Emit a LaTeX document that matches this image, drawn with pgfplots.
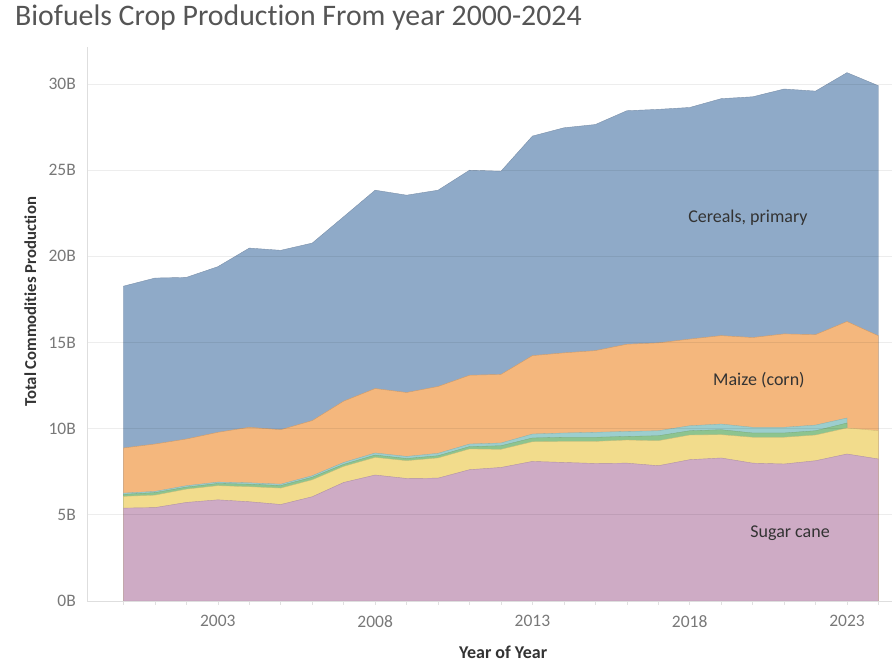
\documentclass[border=0pt]{standalone}
\usepackage{fontspec}
\setmainfont{Carlito}[Ligatures=NoCommon]
\usepackage{pgfplots}
\pgfplotsset{compat=1.18}
\definecolor{cblue}{RGB}{143,170,200}
\definecolor{corange}{RGB}{244,183,125}
\definecolor{cteal}{RGB}{156,206,206}
\definecolor{cgreen}{RGB}{141,196,143}
\definecolor{cyellow}{RGB}{242,220,140}
\definecolor{cpink}{RGB}{206,171,197}
\definecolor{ticktxt}{RGB}{120,120,120}
\definecolor{titletxt}{RGB}{85,85,85}
\definecolor{labtxt}{RGB}{51,51,51}
\begin{document}
\begin{tikzpicture}
\useasboundingbox (0pt,0pt) rectangle (894pt,669pt);
\node[anchor=west, inner sep=0pt, text=titletxt, font=\fontsize{29.8}{29.8}\selectfont] at (15pt,651pt) {Biofuels Crop Production From year 2000-2024};
\begin{axis}[
  at={(87pt,68pt)}, anchor=south west, scale only axis,
  width=805pt, height=554pt,
  xmin=1998.84, xmax=2024.43, ymin=0, ymax=32.15,
  axis x line*=bottom, axis y line*=left,
  axis line style={draw=black!13, -},
  ymajorgrids, major grid style={draw=black, opacity=0.07, line width=0.8pt},
  axis on top,
  xtick={2003,2008,2013,2018,2023},
  xticklabels={2003,2008,2013,2018,2023},
  minor xtick={2000,2001,...,2024},
  ytick={0,5,10,15,20,25,30},
  yticklabels={0B,5B,10B,15B,20B,25B,30B},
  tick align=outside, major tick length=4pt, minor tick length=4pt,
  xtick style={draw=black!12, line width=0.6pt},
  ytick style={draw=none},
  ticklabel style={font=\fontsize{17.5}{17.5}\selectfont, text=ticktxt},
  yticklabel style={anchor=east, inner sep=0pt, xshift=-7pt},
  xticklabel style={anchor=north, inner sep=0pt, yshift=-10pt},
  xlabel={Year of Year},
  ylabel={Total Commodities Production},
  xlabel style={font=\fontsize{18}{18}\selectfont\bfseries, text=labtxt, at={(axis description cs:0.517,-0.092)}, anchor=center},
  ylabel style={font=\fontsize{16.7}{16.7}\selectfont\bfseries, text=labtxt, at={(axis description cs:-0.0705,0.54)}, anchor=center},
  clip=true,
]
% Cereals, primary (cumulative top = total)
\addplot[fill=cblue, draw=cblue!85!black, line width=0.4pt] coordinates {
(2000,18.27) (2001,18.74) (2002,18.78) (2003,19.40) (2004,20.48) (2005,20.35)
(2006,20.77) (2007,22.30) (2008,23.84) (2009,23.55) (2010,23.84) (2011,25.00)
(2012,24.94) (2013,26.98) (2014,27.46) (2015,27.65) (2016,28.45) (2017,28.53)
(2018,28.64) (2019,29.15) (2020,29.26) (2021,29.71) (2022,29.59) (2023,30.66)
(2024,29.90)} \closedcycle;
% Maize (corn) cumulative top
\addplot[fill=corange, draw=corange!85!black, line width=0.4pt] coordinates {
(2000,8.88) (2001,9.11) (2002,9.40) (2003,9.79) (2004,10.08) (2005,9.94)
(2006,10.47) (2007,11.60) (2008,12.33) (2009,12.10) (2010,12.45) (2011,13.10)
(2012,13.15) (2013,14.24) (2014,14.40) (2015,14.53) (2016,14.90) (2017,14.98)
(2018,15.20) (2019,15.40) (2020,15.29) (2021,15.50) (2022,15.46) (2023,16.22)
(2024,15.39)} \closedcycle;
% teal layer cumulative top
\addplot[fill=cteal, draw=cteal!85!black, line width=0.3pt] coordinates {
(2000,6.26) (2001,6.36) (2002,6.69) (2003,6.90) (2004,6.86) (2005,6.78)
(2006,7.27) (2007,8.04) (2008,8.59) (2009,8.39) (2010,8.57) (2011,9.11)
(2012,9.17) (2013,9.69) (2014,9.75) (2015,9.79) (2016,9.84) (2017,9.88)
(2018,10.17) (2019,10.27) (2020,10.08) (2021,10.08) (2022,10.21) (2023,10.62)} \closedcycle;
% green layer cumulative top
\addplot[fill=cgreen, draw=cgreen!85!black, line width=0.3pt] coordinates {
(2000,6.19) (2001,6.29) (2002,6.61) (2003,6.82) (2004,6.78) (2005,6.70)
(2006,7.18) (2007,7.93) (2008,8.47) (2009,8.27) (2010,8.43) (2011,8.96)
(2012,9.01) (2013,9.46) (2014,9.50) (2015,9.50) (2016,9.55) (2017,9.59)
(2018,9.88) (2019,9.94) (2020,9.75) (2021,9.75) (2022,9.88) (2023,10.33)} \closedcycle;
% yellow layer cumulative top
\addplot[fill=cyellow, draw=cyellow!85!black, line width=0.3pt] coordinates {
(2000,6.07) (2001,6.14) (2002,6.49) (2003,6.69) (2004,6.63) (2005,6.55)
(2006,7.03) (2007,7.81) (2008,8.33) (2009,8.14) (2010,8.30) (2011,8.82)
(2012,8.80) (2013,9.24) (2014,9.26) (2015,9.26) (2016,9.34) (2017,9.30)
(2018,9.63) (2019,9.65) (2020,9.50) (2021,9.50) (2022,9.63) (2023,10.04)
(2024,9.88)} \closedcycle;
% Sugar cane
\addplot[fill=cpink, draw=cpink!85!black, line width=0.4pt] coordinates {
(2000,5.39) (2001,5.42) (2002,5.72) (2003,5.87) (2004,5.76) (2005,5.60)
(2006,6.05) (2007,6.88) (2008,7.31) (2009,7.11) (2010,7.13) (2011,7.62)
(2012,7.75) (2013,8.10) (2014,8.04) (2015,7.98) (2016,8.00) (2017,7.85)
(2018,8.20) (2019,8.30) (2020,8.00) (2021,7.95) (2022,8.14) (2023,8.53)
(2024,8.24)} \closedcycle;
\node[text=labtxt, font=\fontsize{18}{18}\selectfont] at (axis cs:2019.85,22.23) {Cereals, primary};
\node[text=labtxt, font=\fontsize{18}{18}\selectfont] at (axis cs:2020.2,12.83) {Maize (corn)};
\node[text=labtxt, font=\fontsize{18}{18}\selectfont] at (axis cs:2021.19,3.95) {Sugar cane};
\end{axis}
\end{tikzpicture}
\end{document}
